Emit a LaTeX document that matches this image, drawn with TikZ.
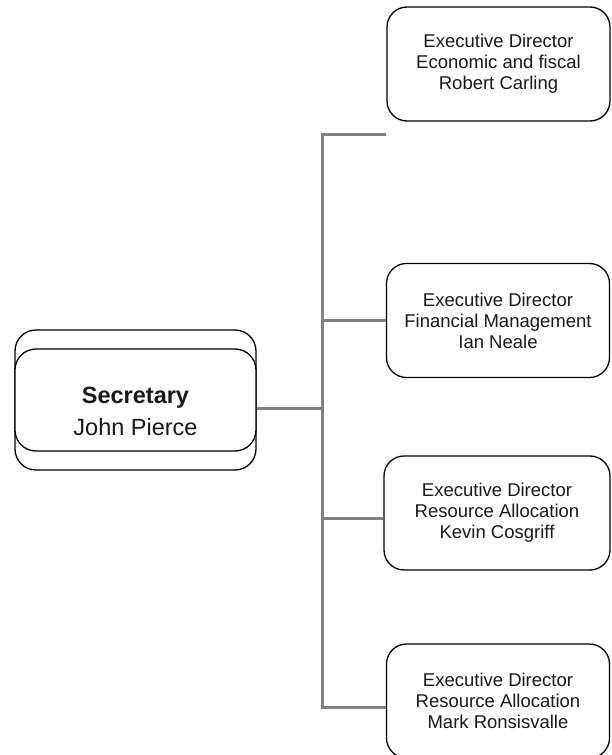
\documentclass[tikz,border=0pt]{standalone}
\usepackage{fontspec}
\setmainfont{Liberation Sans}
\begin{document}
\begin{tikzpicture}[x=1pt,y=-1pt,
  dirbox/.style={draw=black, line width=1.3pt, rounded corners=20pt, minimum width=223pt, minimum height=114pt, align=center, font=\fontsize{18.5}{21}\selectfont, text=black!90, inner sep=0pt},
  secbox/.style={draw=black, line width=1.3pt, rounded corners=21pt, minimum width=241pt, inner sep=0pt, fill=white},
  conn/.style={draw=black!50, line width=3pt}]
\useasboundingbox (0,0) rectangle (611,755);

% coordinates of the trunk
\coordinate (t0) at (322,134);
\coordinate (t1) at (386,134);
\coordinate (j2) at (322,320);
\coordinate (js) at (322,408);
\coordinate (j3) at (322,518);
\coordinate (tb) at (322,707);

% secretary
\node[secbox, minimum height=140pt] (so) at (135.5,400) {};
\node[secbox, minimum height=102pt] (si) at (135.5,400) {};
\node[align=center, font=\fontsize{23.5}{32}\selectfont, text=black!90, inner sep=0pt] (st) at (135.5,411) {\textbf{Secretary}\\John Pierce};

% directors
\node[dirbox] (d1) at (498.5,64) {Executive Director\\Economic and fiscal\\Robert Carling};
\node[dirbox] (d2) at (498,320.5) {Executive Director\\Financial Management\\Ian Neale};
\node[dirbox, minimum width=226pt] (d3) at (497,513) {Executive Director\\Resource Allocation\\Kevin Cosgriff};
\node[dirbox] (d4) at (498,701) {Executive Director\\Resource Allocation\\Mark Ronsisvalle};

% connectors
\draw[conn] (t1) -- (t0) -- (tb) -- (d4.west |- tb);
\draw[conn] (j2) -- (d2.west |- j2);
\draw[conn] (j3) -- (d3.west |- j3);
\draw[conn] (so.east |- js) -- (js);
\end{tikzpicture}
\end{document}
